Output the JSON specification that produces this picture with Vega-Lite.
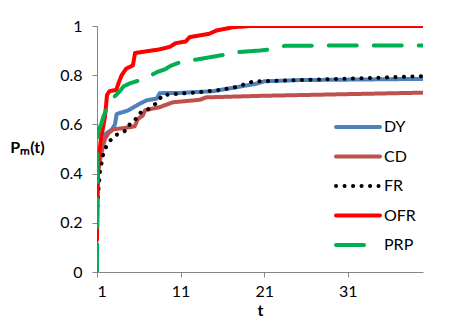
{
  "$schema": "https://vega.github.io/schema/vega-lite/v6.json",
  "width": 326,
  "height": 246,
  "autosize": {"type": "none"},
  "padding": {"left": 97, "top": 26, "right": 40, "bottom": 57},
  "background": "white",
  "config": {
    "view": {"stroke": null},
    "axis": {
      "grid": false,
      "domainColor": "#868686",
      "tickColor": "#868686",
      "tickSize": 5,
      "labelFont": "Lato",
      "labelFontSize": 16,
      "labelColor": "#000000",
      "titleFont": "Lato",
      "titleFontSize": 16,
      "titleFontWeight": "bold",
      "titleColor": "#000000"
    },
    "legend": {
      "orient": "none",
      "legendX": 253,
      "legendY": 93,
      "title": null,
      "symbolType": "M-4,0H4",
      "symbolSize": 121,
      "symbolStrokeWidth": 4,
      "labelFont": "Lato",
      "labelFontSize": 16,
      "labelColor": "#000000",
      "labelOffset": 18,
      "rowPadding": 13.5
    }
  },
  "data": {
    "values": [
      {"t": 1, "v": 0.3, "s": "DY"},
      {"t": 1.1, "v": 0.42, "s": "DY"},
      {"t": 1.3, "v": 0.47, "s": "DY"},
      {"t": 1.56, "v": 0.5, "s": "DY"},
      {"t": 1.95, "v": 0.56, "s": "DY"},
      {"t": 2.75, "v": 0.578, "s": "DY"},
      {"t": 3.15, "v": 0.6, "s": "DY"},
      {"t": 3.35, "v": 0.642, "s": "DY"},
      {"t": 4.75, "v": 0.657, "s": "DY"},
      {"t": 6.15, "v": 0.685, "s": "DY"},
      {"t": 6.95, "v": 0.698, "s": "DY"},
      {"t": 8.15, "v": 0.705, "s": "DY"},
      {"t": 8.5, "v": 0.727, "s": "DY"},
      {"t": 10.9, "v": 0.728, "s": "DY"},
      {"t": 14.9, "v": 0.735, "s": "DY"},
      {"t": 17.5, "v": 0.75, "s": "DY"},
      {"t": 20, "v": 0.765, "s": "DY"},
      {"t": 21, "v": 0.775, "s": "DY"},
      {"t": 25, "v": 0.78, "s": "DY"},
      {"t": 40, "v": 0.785, "s": "DY"},

      {"t": 1, "v": 0.3, "s": "CD"},
      {"t": 1.1, "v": 0.4, "s": "CD"},
      {"t": 1.36, "v": 0.455, "s": "CD"},
      {"t": 1.7, "v": 0.51, "s": "CD"},
      {"t": 1.96, "v": 0.542, "s": "CD"},
      {"t": 2.4, "v": 0.565, "s": "CD"},
      {"t": 2.95, "v": 0.58, "s": "CD"},
      {"t": 4.2, "v": 0.585, "s": "CD"},
      {"t": 5.5, "v": 0.592, "s": "CD"},
      {"t": 5.9, "v": 0.622, "s": "CD"},
      {"t": 6.5, "v": 0.637, "s": "CD"},
      {"t": 6.75, "v": 0.658, "s": "CD"},
      {"t": 8.5, "v": 0.67, "s": "CD"},
      {"t": 10.1, "v": 0.69, "s": "CD"},
      {"t": 13.3, "v": 0.7, "s": "CD"},
      {"t": 14.1, "v": 0.71, "s": "CD"},
      {"t": 20.5, "v": 0.716, "s": "CD"},
      {"t": 40, "v": 0.729, "s": "CD"},

      {"t": 1, "v": 0.2, "s": "FR"},
      {"t": 1.1, "v": 0.3, "s": "FR"},
      {"t": 1.36, "v": 0.41, "s": "FR"},
      {"t": 1.75, "v": 0.48, "s": "FR"},
      {"t": 2.16, "v": 0.515, "s": "FR"},
      {"t": 2.76, "v": 0.542, "s": "FR"},
      {"t": 3.55, "v": 0.563, "s": "FR"},
      {"t": 4.55, "v": 0.576, "s": "FR"},
      {"t": 4.95, "v": 0.603, "s": "FR"},
      {"t": 5.55, "v": 0.617, "s": "FR"},
      {"t": 5.95, "v": 0.644, "s": "FR"},
      {"t": 6.95, "v": 0.657, "s": "FR"},
      {"t": 7.75, "v": 0.678, "s": "FR"},
      {"t": 8.35, "v": 0.692, "s": "FR"},
      {"t": 8.75, "v": 0.718, "s": "FR"},
      {"t": 10.9, "v": 0.725, "s": "FR"},
      {"t": 12.9, "v": 0.73, "s": "FR"},
      {"t": 15.7, "v": 0.74, "s": "FR"},
      {"t": 17.7, "v": 0.752, "s": "FR"},
      {"t": 18.9, "v": 0.766, "s": "FR"},
      {"t": 19.7, "v": 0.775, "s": "FR"},
      {"t": 25, "v": 0.78, "s": "FR"},
      {"t": 32, "v": 0.787, "s": "FR"},
      {"t": 40, "v": 0.796, "s": "FR"},

      {"t": 1, "v": 0.13, "s": "OFR"},
      {"t": 1.1, "v": 0.38, "s": "OFR"},
      {"t": 1.2, "v": 0.46, "s": "OFR"},
      {"t": 1.5, "v": 0.55, "s": "OFR"},
      {"t": 1.75, "v": 0.59, "s": "OFR"},
      {"t": 1.95, "v": 0.63, "s": "OFR"},
      {"t": 2.2, "v": 0.72, "s": "OFR"},
      {"t": 2.5, "v": 0.735, "s": "OFR"},
      {"t": 3.3, "v": 0.74, "s": "OFR"},
      {"t": 3.6, "v": 0.77, "s": "OFR"},
      {"t": 3.95, "v": 0.8, "s": "OFR"},
      {"t": 4.5, "v": 0.827, "s": "OFR"},
      {"t": 5.3, "v": 0.84, "s": "OFR"},
      {"t": 5.55, "v": 0.89, "s": "OFR"},
      {"t": 6.5, "v": 0.895, "s": "OFR"},
      {"t": 8.5, "v": 0.905, "s": "OFR"},
      {"t": 9.7, "v": 0.915, "s": "OFR"},
      {"t": 10.4, "v": 0.93, "s": "OFR"},
      {"t": 11.6, "v": 0.937, "s": "OFR"},
      {"t": 12.1, "v": 0.955, "s": "OFR"},
      {"t": 14.4, "v": 0.968, "s": "OFR"},
      {"t": 15.3, "v": 0.982, "s": "OFR"},
      {"t": 17.3, "v": 0.995, "s": "OFR"},
      {"t": 19.3, "v": 1.0, "s": "OFR"},
      {"t": 40, "v": 1.0, "s": "OFR"},

      {"t": 1, "v": 0, "s": "PRP"},
      {"t": 1.03, "v": 0.3, "s": "PRP"},
      {"t": 1.08, "v": 0.5, "s": "PRP"},
      {"t": 1.15, "v": 0.575, "s": "PRP"},
      {"t": 1.5, "v": 0.6, "s": "PRP"},
      {"t": 1.75, "v": 0.63, "s": "PRP"},
      {"t": 2.1, "v": 0.66, "s": "PRP"},
      {"t": 2.6, "v": 0.68, "s": "PRP"},
      {"t": 3.0, "v": 0.71, "s": "PRP"},
      {"t": 3.6, "v": 0.73, "s": "PRP"},
      {"t": 4.2, "v": 0.755, "s": "PRP"},
      {"t": 5.0, "v": 0.768, "s": "PRP"},
      {"t": 6.2, "v": 0.78, "s": "PRP"},
      {"t": 7.5, "v": 0.8, "s": "PRP"},
      {"t": 8.2, "v": 0.813, "s": "PRP"},
      {"t": 9.2, "v": 0.825, "s": "PRP"},
      {"t": 9.8, "v": 0.838, "s": "PRP"},
      {"t": 10.9, "v": 0.852, "s": "PRP"},
      {"t": 13.3, "v": 0.866, "s": "PRP"},
      {"t": 15.7, "v": 0.88, "s": "PRP"},
      {"t": 17.7, "v": 0.893, "s": "PRP"},
      {"t": 20.5, "v": 0.9, "s": "PRP"},
      {"t": 22.3, "v": 0.908, "s": "PRP"},
      {"t": 23.5, "v": 0.92, "s": "PRP"},
      {"t": 40, "v": 0.921, "s": "PRP"}
    ]
  },
  "mark": {"type": "line", "strokeWidth": 4, "strokeCap": "round", "strokeJoin": "round", "clip": true},
  "encoding": {
    "x": {
      "field": "t",
      "type": "quantitative",
      "scale": {"domain": [1, 40], "nice": false, "zero": false},
      "axis": {"values": [1, 11, 21, 31], "title": "t", "labelPadding": 6, "titlePadding": 3}
    },
    "y": {
      "field": "v",
      "type": "quantitative",
      "scale": {"domain": [0, 1], "nice": false},
      "axis": {
        "values": [0, 0.2, 0.4, 0.6, 0.8, 1],
        "format": "~g",
        "labelPadding": 10,
        "title": "Pₘ(t)",
        "titleAngle": 0,
        "titleX": -70,
        "titleY": 121,
        "titleAlign": "center",
        "titleBaseline": "middle"
      }
    },
    "color": {
      "field": "s",
      "type": "nominal",
      "scale": {"domain": ["DY", "CD", "FR", "OFR", "PRP"], "range": ["#4F81BD", "#C0504D", "#000000", "#FF0000", "#00B050"]},
      "legend": {
        "encode": {"symbols": {"update": {"strokeCap": {"value": "round"}}}}
      }
    },
    "strokeDash": {
      "field": "s",
      "type": "nominal",
      "scale": {"domain": ["DY", "CD", "FR", "OFR", "PRP"], "range": [[1, 0], [1, 0], [0.1, 8.4], [1, 0], [28, 17]]},
      "legend": {
        "encode": {"symbols": {"update": {"strokeCap": {"value": "round"}}}}
      }
    }
  }
}
